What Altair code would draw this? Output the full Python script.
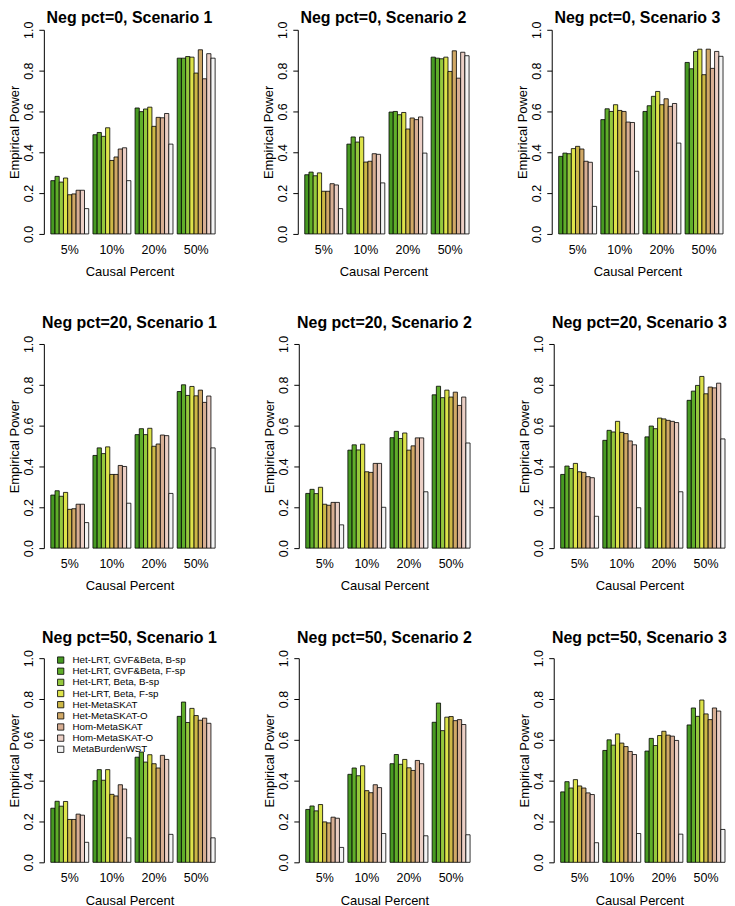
import altair as alt
import pandas as pd

causal_pct = ["5%", "10%", "20%", "50%"]
methods = [
    "Het-LRT, GVF&Beta, B-sp",
    "Het-LRT, GVF&Beta, F-sp",
    "Het-LRT, Beta, B-sp",
    "Het-LRT, Beta, F-sp",
    "Het-MetaSKAT",
    "Het-MetaSKAT-O",
    "Hom-MetaSKAT",
    "Hom-MetaSKAT-O",
    "MetaBurdenWST",
]
bar_colors = ["#479a22", "#60ae2a", "#95c83d", "#dde34a", "#cdb846",
              "#d0a866", "#d7ae93", "#ebcfc5", "#f4f4f4"]

# values per panel: one list of 9 per causal percent (5%, 10%, 20%, 50%)
neg0_s1 = [[0.261, 0.282, 0.254, 0.274, 0.192, 0.196, 0.214, 0.214, 0.124],
           [0.486, 0.497, 0.478, 0.520, 0.360, 0.377, 0.416, 0.422, 0.261],
           [0.617, 0.599, 0.612, 0.621, 0.527, 0.571, 0.569, 0.590, 0.440],
           [0.861, 0.861, 0.869, 0.866, 0.788, 0.902, 0.760, 0.883, 0.861]]
neg0_s2 = [[0.290, 0.303, 0.285, 0.299, 0.209, 0.209, 0.246, 0.240, 0.124],
           [0.440, 0.475, 0.450, 0.475, 0.352, 0.356, 0.393, 0.390, 0.250],
           [0.597, 0.600, 0.584, 0.595, 0.514, 0.568, 0.560, 0.573, 0.396],
           [0.866, 0.861, 0.858, 0.866, 0.796, 0.897, 0.763, 0.890, 0.873]]
neg0_s3 = [[0.380, 0.396, 0.393, 0.418, 0.429, 0.416, 0.356, 0.351, 0.135],
           [0.560, 0.613, 0.600, 0.633, 0.605, 0.600, 0.548, 0.546, 0.307],
           [0.600, 0.628, 0.674, 0.698, 0.633, 0.662, 0.625, 0.639, 0.445],
           [0.840, 0.809, 0.894, 0.905, 0.780, 0.905, 0.811, 0.894, 0.870]]
neg20_s1 = [[0.260, 0.281, 0.254, 0.273, 0.190, 0.193, 0.215, 0.215, 0.125],
            [0.454, 0.491, 0.463, 0.496, 0.361, 0.361, 0.405, 0.400, 0.220],
            [0.556, 0.585, 0.556, 0.587, 0.499, 0.510, 0.554, 0.551, 0.268],
            [0.767, 0.800, 0.748, 0.792, 0.746, 0.774, 0.714, 0.745, 0.491]]
neg20_s2 = [[0.268, 0.288, 0.267, 0.298, 0.215, 0.210, 0.224, 0.224, 0.114],
            [0.480, 0.506, 0.481, 0.509, 0.374, 0.371, 0.415, 0.415, 0.200],
            [0.541, 0.572, 0.537, 0.564, 0.480, 0.501, 0.540, 0.540, 0.276],
            [0.751, 0.793, 0.737, 0.774, 0.740, 0.764, 0.699, 0.740, 0.515]]
neg20_s3 = [[0.361, 0.402, 0.390, 0.415, 0.374, 0.371, 0.350, 0.345, 0.156],
            [0.528, 0.577, 0.569, 0.621, 0.567, 0.561, 0.525, 0.506, 0.198],
            [0.545, 0.598, 0.585, 0.637, 0.633, 0.626, 0.621, 0.615, 0.276],
            [0.724, 0.769, 0.797, 0.841, 0.756, 0.789, 0.785, 0.808, 0.535]]
neg50_s1 = [[0.265, 0.299, 0.275, 0.298, 0.210, 0.210, 0.236, 0.231, 0.098],
            [0.400, 0.454, 0.402, 0.454, 0.333, 0.325, 0.380, 0.359, 0.120],
            [0.515, 0.540, 0.491, 0.527, 0.483, 0.462, 0.524, 0.504, 0.137],
            [0.715, 0.785, 0.685, 0.754, 0.719, 0.696, 0.706, 0.681, 0.120]]
neg50_s2 = [[0.259, 0.276, 0.252, 0.283, 0.198, 0.193, 0.221, 0.216, 0.073],
            [0.431, 0.462, 0.424, 0.473, 0.351, 0.341, 0.380, 0.366, 0.141],
            [0.483, 0.528, 0.480, 0.504, 0.463, 0.450, 0.499, 0.483, 0.130],
            [0.686, 0.780, 0.645, 0.711, 0.714, 0.694, 0.699, 0.675, 0.135]]
neg50_s3 = [[0.345, 0.395, 0.364, 0.405, 0.374, 0.364, 0.340, 0.332, 0.096],
            [0.548, 0.600, 0.574, 0.629, 0.584, 0.567, 0.543, 0.528, 0.141],
            [0.545, 0.607, 0.572, 0.621, 0.642, 0.623, 0.618, 0.597, 0.138],
            [0.673, 0.756, 0.715, 0.795, 0.727, 0.699, 0.756, 0.741, 0.161]]

panels = [
    [("Neg pct=0, Scenario 1", neg0_s1), ("Neg pct=0, Scenario 2", neg0_s2), ("Neg pct=0, Scenario 3", neg0_s3)],
    [("Neg pct=20, Scenario 1", neg20_s1), ("Neg pct=20, Scenario 2", neg20_s2), ("Neg pct=20, Scenario 3", neg20_s3)],
    [("Neg pct=50, Scenario 1", neg50_s1), ("Neg pct=50, Scenario 2", neg50_s2), ("Neg pct=50, Scenario 3", neg50_s3)],
]

FONT = "Liberation Sans"


def make_panel(title, vals, title_offset, show_legend):
    rows = []
    for gi, g in enumerate(causal_pct):
        for mi, m in enumerate(methods):
            rows.append({"pct": g, "method": m, "power": vals[gi][mi]})
    df = pd.DataFrame(rows)
    if show_legend:
        legend = alt.Legend(
            title=None, orient="none", legendX=12, legendY=-3, padding=0,
            symbolType="square", symbolSize=40, symbolStrokeColor="black",
            symbolStrokeWidth=0.8, labelFontSize=9.8, labelFont=FONT,
            labelColor="black", labelOffset=7, rowPadding=0.2,
            labelLimit=300,
        )
    else:
        legend = None
    return alt.Chart(df).mark_bar(stroke="black", strokeWidth=0.8).encode(
        x=alt.X("pct:N", sort=causal_pct,
                scale=alt.Scale(paddingInner=0.1, paddingOuter=0.0825, align=1),
                axis=alt.Axis(title="Causal Percent", labelAngle=0, domain=False,
                              ticks=False, labelPadding=9.5, titlePadding=10)),
        xOffset=alt.XOffset("method:N", sort=methods,
                            scale=alt.Scale(paddingInner=0, paddingOuter=0)),
        y=alt.Y("power:Q", scale=alt.Scale(domain=[0, 1], nice=False),
                axis=alt.Axis(title="Empirical Power", values=[0, 0.2, 0.4, 0.6, 0.8, 1.0],
                              format=".1f", labelAngle=270, grid=False, tickSize=5,
                              labelPadding=3.5, titlePadding=1)),
        color=alt.Color("method:N", sort=methods,
                        scale=alt.Scale(domain=methods, range=bar_colors),
                        legend=legend),
    ).properties(
        width=172, height=205,
        title=alt.TitleParams(title, fontSize=16, fontWeight="bold", font=FONT,
                              color="black", anchor="middle", frame="group",
                              offset=title_offset),
    )


row_charts = []
for ri, row in enumerate(panels):
    offs = -5 if ri == 0 else 4
    charts = [make_panel(t, v, offs, ri == 2 and ci == 0) for ci, (t, v) in enumerate(row)]
    row_charts.append(alt.hconcat(*charts, spacing=46))

chart = alt.vconcat(*row_charts, spacing=36.5).resolve_scale(color="independent").properties(
    padding=0, background="white"
).configure_view(stroke=None).configure_axis(
    labelFont=FONT, titleFont=FONT, labelFontSize=12.5, titleFontSize=13,
    labelColor="black", titleColor="black", domainColor="black", tickColor="black",
    titleFontWeight="normal",
)

chart.save("out.html", embed_options={"renderer": "svg", "actions": False})
